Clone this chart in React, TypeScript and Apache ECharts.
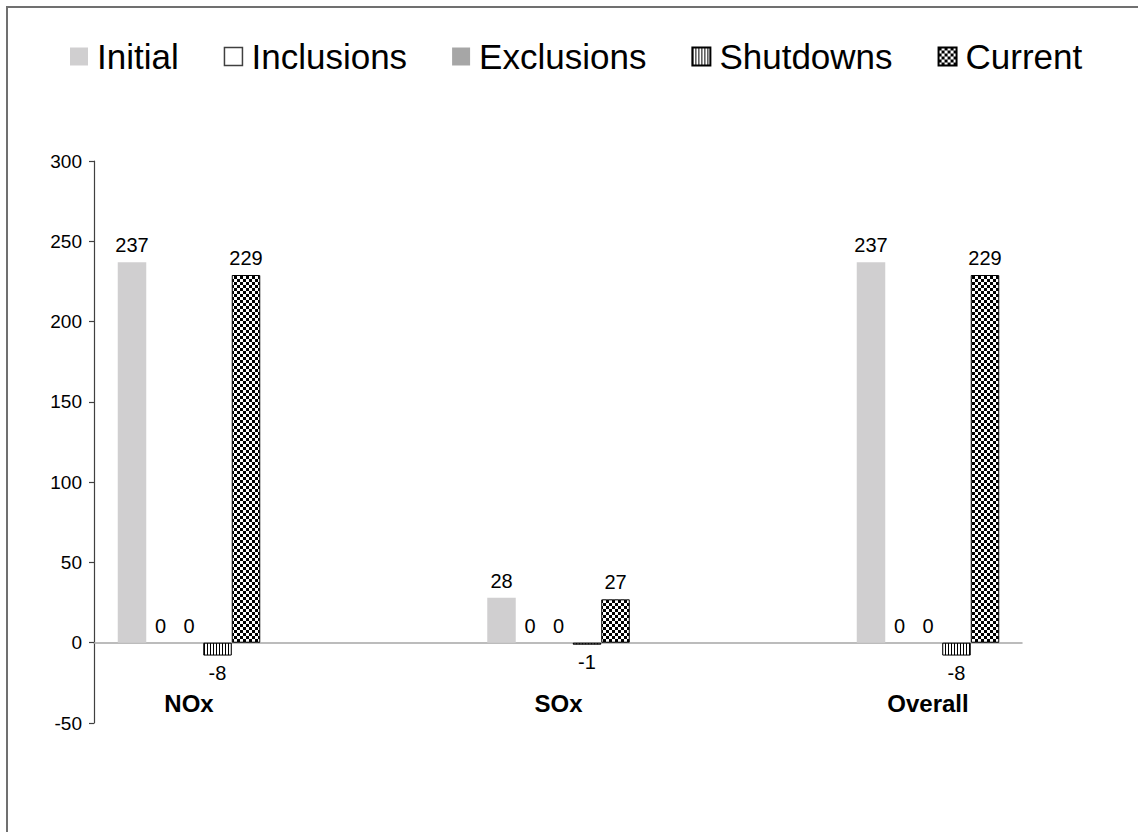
import React, { useEffect, useRef } from "react";
import * as echarts from "echarts";

// ---- data ----
const categories = ["NOx", "SOx", "Overall"];
const seriesNames = ["Initial", "Inclusions", "Exclusions", "Shutdowns", "Current"];
const initialValues = [237, 28, 237];
const inclusionValues = [0, 0, 0];
const exclusionValues = [0, 0, 0];
const shutdownValues = [-8, -1, -8];
const currentValues = [229, 27, 229];
const yMin = -50;
const yMax = 300;
const yInterval = 50;

const FONT = "'Liberation Sans', Arial, sans-serif";

function makeStripe(): HTMLCanvasElement {
  const c = document.createElement("canvas");
  c.width = 3;
  c.height = 3;
  const ctx = c.getContext("2d")!;
  ctx.fillStyle = "#ffffff";
  ctx.fillRect(0, 0, 3, 3);
  ctx.fillStyle = "#000000";
  ctx.fillRect(0, 0, 1, 3);
  return c;
}

function makeChecker(): HTMLCanvasElement {
  const c = document.createElement("canvas");
  c.width = 6;
  c.height = 6;
  const ctx = c.getContext("2d")!;
  ctx.fillStyle = "#ffffff";
  ctx.fillRect(0, 0, 6, 6);
  ctx.fillStyle = "#000000";
  ctx.fillRect(0, 0, 3, 3);
  ctx.fillRect(3, 3, 3, 3);
  return c;
}

function toData(values: number[]) {
  return values.map((v) => ({
    value: v,
    label: { position: v < 0 ? "bottom" : "top" },
  }));
}

export default function App() {
  const ref = useRef<HTMLDivElement>(null);

  useEffect(() => {
    if (!ref.current) return;
    const chart = echarts.init(ref.current, null, { renderer: "svg" });

    const stripe = { image: makeStripe(), repeat: "repeat" };
    const checker = { image: makeChecker(), repeat: "repeat" };

    const label = {
      show: true,
      distance: 7,
      fontSize: 20,
      fontFamily: FONT,
      color: "#000",
    };

    const styles: any[] = [
      { color: "#d0cfd0", borderWidth: 0 },
      { color: "#ffffff", borderWidth: 0 },
      { color: "#a6a6a6", borderWidth: 0 },
      { color: stripe, borderColor: "#000", borderWidth: 1 },
      { color: checker, borderColor: "#000", borderWidth: 1 },
    ];
    const values = [initialValues, inclusionValues, exclusionValues, shutdownValues, currentValues];

    const series = seriesNames.map((name, i) => ({
      name,
      type: "bar",
      xAxisIndex: 0,
      yAxisIndex: 0,
      barWidth: 28.5,
      barGap: "0%",
      barMinHeight: i === 3 ? 2 : 0,
      itemStyle: styles[i],
      label,
      data: toData(values[i]),
    }));

    const option: any = {
      animation: false,
      backgroundColor: "#ffffff",
      textStyle: { fontFamily: FONT },
      legend: {
        left: 65,
        top: 34,
        icon: "rect",
        itemWidth: 18,
        itemHeight: 18,
        itemGap: 45,
        textStyle: {
          fontSize: 35,
          fontFamily: FONT,
          color: "#000",
          padding: [0, 0, 0, 4],
        },
        data: seriesNames.map((n, i) =>
          i === 1
            ? { name: n, itemStyle: { color: "#fff", borderColor: "#404040", borderWidth: 1.5 } }
            : { name: n }
        ),
      },
      grid: [
        { left: 4.25, width: 1108.5, top: 161, height: 562, outerBoundsMode: "none" },
        { left: 94, width: 928, top: 161, height: 562, outerBoundsMode: "none" },
      ],
      xAxis: [
        {
          type: "category",
          gridIndex: 0,
          data: categories,
          position: "bottom",
          offset: -80,
          axisLine: { show: false, onZero: false },
          axisTick: { show: false },
          splitLine: { show: false },
          axisLabel: {
            margin: 48,
            fontSize: 24,
            fontWeight: "bold",
            fontFamily: FONT,
            color: "#000",
          },
        },
        {
          type: "category",
          gridIndex: 1,
          data: categories,
          axisLine: { show: true, onZero: true, lineStyle: { color: "#a6a6a6", width: 1.5 } },
          axisTick: { show: false },
          axisLabel: { show: false },
          splitLine: { show: false },
        },
      ],
      yAxis: [
        {
          type: "value",
          gridIndex: 0,
          min: yMin,
          max: yMax,
          interval: yInterval,
          show: true,
          axisLine: { show: false },
          axisTick: { show: false },
          axisLabel: { show: false },
          splitLine: { show: false },
        },
        {
          type: "value",
          gridIndex: 1,
          min: yMin,
          max: yMax,
          interval: yInterval,
          axisLine: { show: true, lineStyle: { color: "#404040", width: 1.2 } },
          axisTick: { show: true, length: 5, lineStyle: { color: "#404040", width: 1.2 } },
          splitLine: { show: false },
          axisLabel: {
            margin: 12,
            fontSize: 19,
            fontFamily: FONT,
            color: "#000",
          },
        },
      ],
      graphic: [
        {
          type: "rect",
          silent: true,
          z: 100,
          shape: { x: 7, y: 7, width: 1400, height: 1000 },
          style: { fill: "none", stroke: "#707070", lineWidth: 2 },
        },
      ],
      series,
    };

    chart.setOption(option);
    return () => {
      chart.dispose();
    };
  }, []);

  return (
    <div
      ref={ref}
      style={{ position: "fixed", left: 0, top: 0, width: 1138, height: 832, overflow: "hidden" }}
    />
  );
}
